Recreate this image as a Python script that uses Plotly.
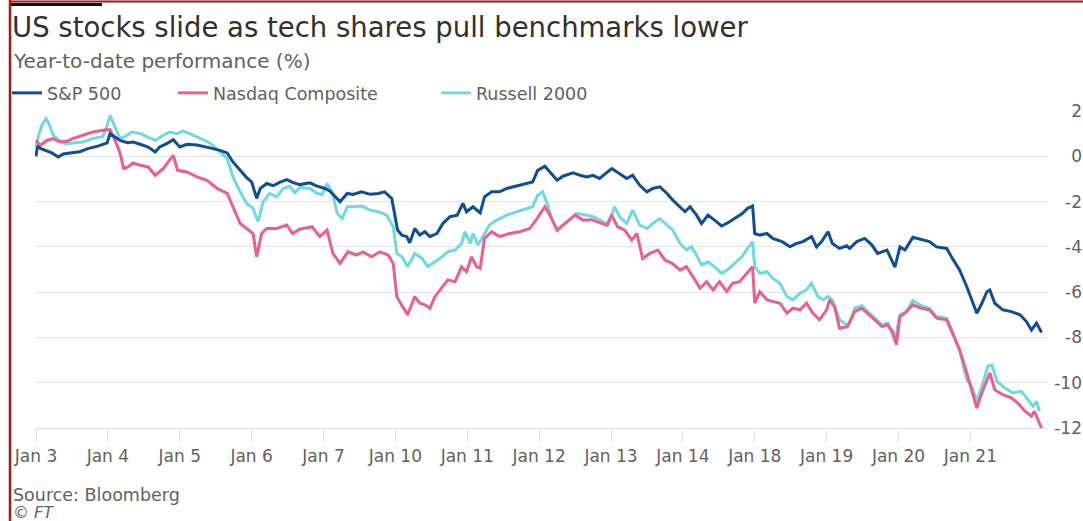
import plotly.graph_objects as go

# ---------------- data ----------------
DAY_LABELS = ["Jan 3", "Jan 4", "Jan 5", "Jan 6", "Jan 7", "Jan 10", "Jan 11",
              "Jan 12", "Jan 13", "Jan 14", "Jan 18", "Jan 19", "Jan 20", "Jan 21"]
DAY_INDEX = list(range(len(DAY_LABELS)))
Y_TICKS = [2, 0, -2, -4, -6, -8, -10, -12]

# time is measured in trading sessions since the open on Jan 3
SP500_T = [0.0, 0.02, 0.06, 0.13, 0.22, 0.31, 0.38, 0.50, 0.61, 0.72, 0.86, 0.99,
           1.03, 1.10, 1.17, 1.27, 1.35, 1.45, 1.56, 1.66, 1.72, 1.82, 1.91,
           2.00, 2.10, 2.24, 2.32, 2.42, 2.56, 2.66, 2.74, 2.84, 2.93,
           3.00, 3.07, 3.12, 3.21, 3.30, 3.39, 3.49, 3.57, 3.67, 3.81, 3.91,
           4.02, 4.09, 4.16, 4.23, 4.33, 4.41, 4.53, 4.65, 4.76, 4.85, 4.95,
           4.99, 5.03, 5.09, 5.16, 5.20, 5.27, 5.34, 5.41, 5.48, 5.58, 5.66, 5.76, 5.86, 5.94, 5.99,
           6.08, 6.18, 6.24, 6.34, 6.45, 6.55, 6.69, 6.83, 6.91, 6.98,
           7.08, 7.15, 7.25, 7.33, 7.47, 7.57, 7.66, 7.75, 7.84,
           8.01, 8.12, 8.22, 8.30, 8.40, 8.50, 8.58, 8.68, 8.78, 8.86, 8.96,
           9.03, 9.10, 9.19, 9.26, 9.35, 9.44, 9.54, 9.65, 9.75, 9.83, 9.90, 9.97,
           10.00, 10.07, 10.17, 10.25, 10.38, 10.49, 10.58, 10.67, 10.79, 10.86, 10.93,
           11.02, 11.08, 11.18, 11.28, 11.32, 11.42, 11.53, 11.63, 11.71, 11.84, 11.95,
           12.02, 12.09, 12.20, 12.32, 12.43, 12.53, 12.67, 12.75, 12.85, 12.95,
           13.02, 13.09, 13.16, 13.23, 13.27, 13.34, 13.45, 13.57, 13.69, 13.78, 13.85, 13.92, 13.99]
SP500_V = [0.0, 0.45, 0.35, 0.26, 0.15, -0.03, 0.10, 0.16, 0.20, 0.34, 0.45, 0.59,
           1.00, 0.85, 0.70, 0.60, 0.63, 0.53, 0.41, 0.19, 0.41, 0.56, 0.73,
           0.41, 0.53, 0.50, 0.45, 0.37, 0.26, 0.15, -0.25, -0.62, -0.94,
           -1.13, -1.86, -1.42, -1.20, -1.30, -1.15, -1.03, -1.15, -1.25, -1.17, -1.32,
           -1.42, -1.54, -1.79, -2.01, -1.64, -1.69, -1.57, -1.68, -1.64, -1.57, -1.86,
           -2.52, -3.26, -3.48, -3.55, -3.82, -3.19, -3.48, -3.33, -3.55, -3.40, -2.97, -2.67, -2.60, -2.08, -2.45,
           -2.23, -2.50, -1.79, -1.57, -1.57, -1.42, -1.32, -1.20, -1.13, -0.62,
           -0.44, -0.69, -1.06, -0.88, -0.73, -0.84, -0.91, -0.84, -0.98,
           -0.54, -0.76, -0.98, -0.84, -1.28, -1.57, -1.42, -1.35, -1.64, -1.94, -2.23,
           -2.45, -2.23, -2.60, -2.97, -2.60, -2.82, -3.08, -2.89, -2.67, -2.52, -2.30, -2.20,
           -3.41, -3.48, -3.41, -3.63, -3.77, -4.00, -3.85, -3.77, -3.55, -4.00, -3.77,
           -3.33, -3.85, -4.07, -3.95, -4.07, -3.77, -3.63, -3.92, -4.29, -4.14, -4.90,
           -4.00, -4.14, -3.58, -3.67, -3.77, -4.00, -4.07, -4.51, -5.02, -5.76,
           -6.34, -6.93, -6.49, -5.98, -5.90, -6.49, -6.78, -6.86, -7.00, -7.30, -7.67, -7.37, -7.78]

NASDAQ_T = [0.0, 0.06, 0.15, 0.24, 0.33, 0.43, 0.51, 0.65, 0.79, 0.93,
            1.03, 1.10, 1.17, 1.22, 1.28, 1.35, 1.45, 1.56, 1.66, 1.77, 1.91, 1.97,
            2.10, 2.24, 2.38, 2.52, 2.66, 2.74, 2.84, 2.93,
            3.02, 3.07, 3.14, 3.21, 3.35, 3.49, 3.57, 3.67, 3.84, 3.95,
            4.05, 4.13, 4.23, 4.34, 4.46, 4.55, 4.67, 4.78, 4.90, 4.97,
            5.02, 5.10, 5.17, 5.27, 5.34, 5.41, 5.48, 5.55, 5.65, 5.73, 5.83, 5.92, 5.99,
            6.06, 6.13, 6.18, 6.24, 6.34, 6.45, 6.59, 6.73, 6.87, 6.97,
            7.08, 7.15, 7.25, 7.39, 7.50, 7.61, 7.73, 7.84, 7.94,
            8.01, 8.09, 8.19, 8.29, 8.36, 8.44, 8.54, 8.65, 8.75, 8.85, 8.96,
            9.05, 9.14, 9.24, 9.33, 9.42, 9.51, 9.61, 9.69, 9.79, 9.89, 9.97,
            10.00, 10.07, 10.17, 10.25, 10.35, 10.45, 10.53, 10.63, 10.72, 10.81, 10.90,
            11.00, 11.04, 11.11, 11.18, 11.29, 11.39, 11.49, 11.57, 11.67, 11.77, 11.85, 11.92, 11.97,
            12.02, 12.09, 12.20, 12.32, 12.43, 12.53, 12.67, 12.75, 12.85, 12.95,
            13.02, 13.09, 13.16, 13.23, 13.27, 13.34, 13.45, 13.57, 13.66, 13.76, 13.85, 13.89, 13.99]
NASDAQ_V = [0.70, 0.48, 0.70, 0.78, 0.63, 0.66, 0.78, 0.93, 1.07, 1.15,
            1.18, 0.70, 0.12, -0.54, -0.47, -0.29, -0.40, -0.47, -0.84, -0.54, 0.04, -0.62,
            -0.69, -0.91, -1.06, -1.42, -1.64, -2.23, -2.97, -3.19,
            -3.41, -4.44, -3.41, -3.19, -3.19, -3.04, -3.41, -3.22, -3.11, -3.55,
            -3.26, -4.29, -4.73, -4.22, -4.36, -4.22, -4.44, -4.22, -4.36, -4.73,
            -6.20, -6.64, -7.00, -6.20, -6.49, -6.56, -6.71, -6.20, -5.76, -5.46, -5.54, -4.88, -5.10,
            -4.44, -4.88, -4.95, -3.63, -3.33, -3.55, -3.41, -3.33, -3.19, -2.75,
            -2.23, -2.60, -3.26, -2.89, -2.60, -2.82, -2.80, -2.93, -3.04,
            -2.60, -3.11, -3.26, -3.70, -3.41, -4.51, -4.29, -4.14, -4.58, -4.73, -5.02,
            -4.88, -5.32, -5.83, -5.54, -5.90, -5.54, -5.98, -5.61, -5.54, -5.17, -4.88,
            -6.49, -5.98, -6.34, -6.42, -6.49, -6.93, -6.71, -6.78, -6.49, -6.93, -7.22,
            -6.78, -6.34, -6.64, -7.59, -7.52, -6.86, -6.71, -6.93, -7.22, -7.52, -7.44, -7.74, -8.33,
            -7.08, -6.93, -6.56, -6.71, -6.78, -7.15, -7.22, -7.81, -8.55, -9.57,
            -10.31, -11.12, -10.45, -9.87, -9.57, -10.31, -10.53, -10.67, -10.90, -11.26, -11.48, -11.26, -12.00]

RUSSELL_T = [0.0, 0.03, 0.08, 0.14, 0.19, 0.24, 0.31, 0.40, 0.51, 0.65, 0.79, 0.93, 0.99,
             1.03, 1.10, 1.17, 1.24, 1.34, 1.45, 1.54, 1.66, 1.77, 1.86, 1.96,
             2.04, 2.14, 2.28, 2.42, 2.56, 2.66, 2.74, 2.84, 2.93,
             3.02, 3.09, 3.16, 3.25, 3.35, 3.44, 3.53, 3.60, 3.67, 3.81, 3.91, 3.98,
             4.05, 4.12, 4.19, 4.26, 4.33, 4.41, 4.53, 4.65, 4.76, 4.88, 4.97,
             5.02, 5.09, 5.17, 5.27, 5.37, 5.45, 5.55, 5.65, 5.73, 5.83, 5.92, 5.97,
             6.04, 6.08, 6.15, 6.22, 6.31, 6.41, 6.55, 6.69, 6.83, 6.91, 6.98,
             7.05, 7.12, 7.19, 7.26, 7.39, 7.52, 7.66, 7.75, 7.84, 7.96,
             8.05, 8.12, 8.22, 8.30, 8.40, 8.50, 8.58, 8.68, 8.78, 8.86, 8.96,
             9.05, 9.12, 9.19, 9.26, 9.35, 9.44, 9.54, 9.62, 9.72, 9.82, 9.90, 9.97,
             10.00, 10.07, 10.17, 10.25, 10.35, 10.45, 10.53, 10.63, 10.72, 10.79, 10.88, 10.95,
             11.02, 11.08, 11.18, 11.28, 11.32, 11.39, 11.49, 11.57, 11.67, 11.77, 11.85, 11.95,
             12.02, 12.11, 12.20, 12.32, 12.43, 12.53, 12.67, 12.75, 12.85, 12.95,
             13.02, 13.09, 13.16, 13.24, 13.30, 13.37, 13.48, 13.59, 13.71, 13.80, 13.87, 13.92, 13.96]
RUSSELL_V = [0.41, 0.85, 1.37, 1.66, 1.37, 0.93, 0.73, 0.56, 0.59, 0.63, 0.78, 0.88, 1.37,
             1.81, 1.29, 0.78, 0.88, 1.07, 1.00, 0.88, 0.70, 0.93, 1.07, 1.00,
             1.11, 1.00, 0.78, 0.59, 0.19, -0.10, -0.91, -1.57, -2.08,
             -2.30, -2.89, -2.01, -1.64, -1.79, -1.42, -1.32, -1.61, -1.38, -1.42, -1.64, -1.69,
             -1.20, -1.57, -2.52, -2.75, -2.23, -2.23, -2.20, -2.38, -2.45, -2.60, -3.11,
             -4.29, -4.44, -4.88, -4.29, -4.51, -4.88, -4.66, -4.44, -4.22, -4.14, -3.85, -3.33,
             -3.85, -3.41, -3.92, -3.55, -3.04, -2.82, -2.60, -2.45, -2.30, -2.23, -1.72,
             -1.57, -2.16, -2.89, -3.26, -2.89, -2.52, -2.60, -2.67, -2.80, -3.04,
             -2.23, -2.67, -2.97, -2.38, -3.04, -3.19, -2.97, -2.75, -3.04, -3.26, -3.85,
             -4.14, -4.00, -4.36, -4.80, -4.66, -4.88, -5.17, -5.02, -4.73, -4.44, -4.07, -3.77,
             -4.88, -5.17, -5.10, -5.39, -5.61, -6.20, -6.34, -6.05, -5.90, -5.61, -6.20, -6.34,
             -6.20, -6.34, -7.22, -7.44, -7.37, -6.71, -6.60, -6.86, -7.15, -7.44, -7.37, -8.18,
             -7.00, -6.86, -6.37, -6.60, -6.71, -7.08, -7.15, -7.74, -8.55, -9.87,
             -10.16, -10.82, -10.16, -9.28, -9.21, -9.94, -10.24, -10.45, -10.38, -10.75, -11.04, -10.82, -11.26]

# ---------------- styling ----------------
FONT = "DejaVu Sans"
INK = "#33302e"
GREY = "#66605c"
GRID = "#e9e4df"
AXIS = "#e3ded9"
COLORS = {"S&P 500": "#0f4d96", "Nasdaq Composite": "#eb5e8d", "Russell 2000": "#6fd9e3"}
FT_RED = "#a11a1a"

W, H = 1083, 521
L, R, T, B = 35, 0, 111, 93
PW, PH = W - L - R, H - T - B


def px_x(px):
    return (px - L) / PW


def px_y(py):
    return (H - B - py) / PH


fig = go.Figure()
series = [
    ("Russell 2000", RUSSELL_T, RUSSELL_V, "legend3"),
    ("Nasdaq Composite", NASDAQ_T, NASDAQ_V, "legend2"),
    ("S&P 500", SP500_T, SP500_V, "legend"),
]
for name, t, v, lg in series:
    fig.add_trace(go.Scatter(x=t, y=v, mode="lines", name=name, legend=lg,
                             line=dict(color=COLORS[name], width=3),
                             hoverinfo="skip"))

legend_common = dict(orientation="h", xanchor="left", yanchor="middle",
                     bgcolor="rgba(0,0,0,0)", borderwidth=0,
                     font=dict(family=FONT, size=17.5, color=GREY))

fig.update_layout(
    width=W, height=H,
    margin=dict(l=L, r=R, t=T, b=B, autoexpand=False),
    paper_bgcolor="white", plot_bgcolor="white",
    font=dict(family=FONT, color=GREY),
    title=dict(text="US stocks slide as tech shares pull benchmarks lower",
               x=12 / W, xanchor="left", xref="container",
               y=1 - 27 / H, yanchor="middle", yref="container",
               font=dict(family=FONT, size=27.5, color=INK)),
    legend=dict(x=px_x(7), y=px_y(93), **legend_common),
    legend2=dict(x=px_x(173), y=px_y(93), **legend_common),
    legend3=dict(x=px_x(436), y=px_y(93), **legend_common),
    xaxis=dict(domain=[0, px_x(1048)], range=[-0.014, 14.08],
               tickvals=DAY_INDEX, ticktext=DAY_LABELS,
               ticks="outside", ticklen=13, tickcolor=AXIS, tickwidth=1,
               showline=True, linecolor=AXIS, linewidth=1,
               showgrid=False, zeroline=False, automargin=False,
               tickfont=dict(family=FONT, size=17, color=GREY)),
    yaxis=dict(anchor="free", position=1, side="left", automargin=False,
               range=[-12, 2], tickvals=Y_TICKS, ticktext=[str(v) for v in Y_TICKS],
               ticks="", ticklabelstandoff=1,
               showgrid=True, gridcolor=GRID, gridwidth=1,
               zeroline=False, showline=False,
               tickfont=dict(family=FONT, size=17, color=GREY)),
    showlegend=True,
)

fig.add_annotation(text="Year-to-date performance (%)", xref="paper", yref="paper",
                   x=px_x(11), y=px_y(61), xanchor="left", yanchor="middle",
                   showarrow=False, font=dict(family=FONT, size=20, color=GREY))
fig.add_annotation(text="Source: Bloomberg", xref="paper", yref="paper",
                   x=px_x(11), y=px_y(495), xanchor="left", yanchor="middle",
                   showarrow=False, font=dict(family=FONT, size=17.5, color=GREY))
fig.add_annotation(text="<i>© FT</i>", xref="paper", yref="paper",
                   x=px_x(11), y=px_y(512), xanchor="left", yanchor="middle",
                   showarrow=False, font=dict(family=FONT, size=16, color=GREY))

# FT frame decorations
fig.add_shape(type="line", xref="paper", yref="paper",
              x0=px_x(10), x1=px_x(10), y0=px_y(0), y1=px_y(521),
              line=dict(color=FT_RED, width=2.5))
fig.add_shape(type="line", xref="paper", yref="paper",
              x0=px_x(9), x1=px_x(1083), y0=px_y(1.5), y1=px_y(1.5),
              line=dict(color=FT_RED, width=2))
fig.add_shape(type="rect", xref="paper", yref="paper",
              x0=px_x(11), x1=px_x(102), y0=px_y(3), y1=px_y(6),
              fillcolor="#111111", line=dict(width=0))

# the page's default body margin would offset the fixed-size figure
fig.write_html("out.html", config={"displayModeBar": False},
               post_script="document.body.style.margin='0px';")
